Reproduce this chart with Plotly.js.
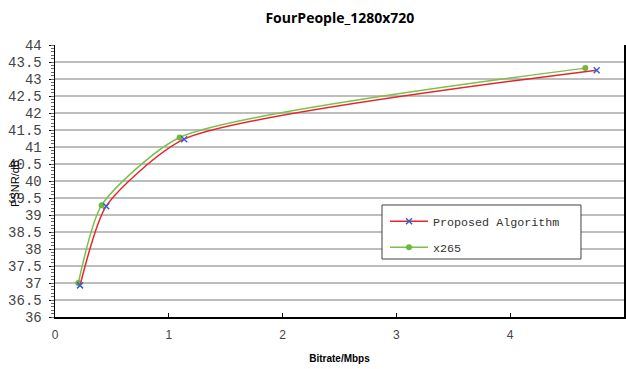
<!DOCTYPE html>
<html><head><meta charset="utf-8">
<script src="https://cdn.plot.ly/plotly-3.0.1.min.js"></script>
<style>html,body{margin:0;padding:0;background:#fff}#c{width:626px;height:369px}</style>
</head><body><div id="c"></div>
<script>
const chartTitle = "FourPeople_1280x720";
const xTitle = "Bitrate/Mbps";
const yTitle = "PSNR/dB";
const seriesNames = ["Proposed Algorithm", "x265"];
const proposedX = [0.22, 0.45, 1.135, 4.76];
const proposedY = [36.93, 39.26, 41.23, 43.26];
const x265X = [0.205, 0.41, 1.095, 4.66];
const x265Y = [37.0, 39.29, 41.28, 43.32];
const xTickVals = [0,1,2,3,4,5];

const traces = [
  {x: x265X, y: x265Y, name: seriesNames[1], type: "scatter", mode: "lines+markers",
   legendgroup: "b", legendrank: 2, yaxis: "y",
   line: {color: "#7ac04a", width: 1.5, shape: "spline", smoothing: 0.62},
   marker: {symbol: "circle", size: 6, color: "#6fb83c"}},
  {x: proposedX, y: proposedY, name: seriesNames[0], type: "scatter", mode: "lines+markers",
   legendgroup: "a", legendrank: 1, yaxis: "y2",
   line: {color: "#e8262a", width: 1.5, shape: "spline", smoothing: 0.62},
   marker: {symbol: "x-thin-open", size: 6, color: "#3b5fd4", line: {color: "#3b5fd4", width: 1.5}}}
];

const layout = {
  width: 626, height: 369,
  margin: {l: 55, r: 2, t: 45, b: 52},
  paper_bgcolor: "#fff", plot_bgcolor: "#fff",
  title: {text: "<b>" + chartTitle + "</b>", x: 0.543, xanchor: "center", y: 0.952, yanchor: "middle",
          font: {family: "Open Sans, Arial", size: 14, color: "#000"}},
  showlegend: true,
  legend: {x: 0.58, y: 0.405, xanchor: "left", yanchor: "top", bgcolor: "rgba(0,0,0,0)",
           borderwidth: 0, tracegroupgap: 7, itemwidth: 38,
           font: {family: "Liberation Mono, monospace", size: 11.7, color: "#333"}},
  shapes: [{type: "rect", xref: "paper", yref: "paper", x0: 0.5747, x1: 0.9244, y0: 0.2132, y1: 0.4118,
            line: {color: "#404040", width: 1}, fillcolor: "#fff", layer: "above"}],
  xaxis: {range: [0, 5], tickvals: xTickVals, ticks: "inside", ticklen: 4, tickcolor: "#000",
          showline: true, linecolor: "#000", linewidth: 1.5, showgrid: false, zeroline: false,
          tickfont: {family: "Liberation Sans, Arial", size: 12, color: "#444"},
          ticklabelstandoff: 6,
          title: {text: "<b>" + xTitle + "</b>", font: {family: "Liberation Sans, Arial", size: 10, color: "#000"}, standoff: 14}},
  yaxis: {range: [36, 44], tickmode: "linear", tick0: 36, dtick: 0.5, ticks: "outside", ticklen: 5, tickcolor: "#000",
          showline: true, linecolor: "#000", linewidth: 1.5, mirror: true,
          showgrid: true, gridcolor: "#bdbdbd", gridwidth: 1.2, zeroline: false,
          ticklabelstandoff: 4,
          tickfont: {family: "Liberation Mono, monospace", size: 14, color: "#444"}},
  yaxis2: {range: [36, 44], overlaying: "y", side: "left", anchor: "x", tickmode: "linear", tick0: 36, dtick: 0.1,
           ticks: "outside", ticklen: 3, tickcolor: "#666", showticklabels: false, showgrid: false,
           showline: false, zeroline: false},
  annotations: [{text: yTitle, xref: "paper", yref: "paper", x: -0.07, y: 0.49, textangle: -90,
                 showarrow: false, xanchor: "center", yanchor: "middle",
                 font: {family: "Liberation Sans, Arial", size: 11, color: "#000"}}]
};
Plotly.newPlot("c", traces, layout, {displayModeBar: false, staticPlot: true});
</script></body></html>
